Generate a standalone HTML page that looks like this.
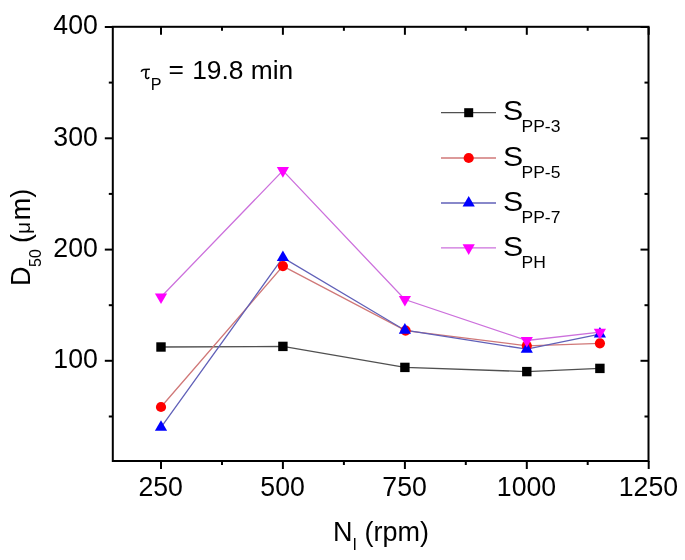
<!DOCTYPE html>
<html><head><meta charset="utf-8"><style>
html,body{margin:0;padding:0;background:#fff;}
svg{display:block;will-change:transform;}
text{font-family:"Liberation Sans",sans-serif;fill:#000;}
.t{font-size:27.5px;}
</style></head><body>
<svg width="685" height="560" viewBox="0 0 685 560">
<rect width="685" height="560" fill="#fff"/>
<g>
<rect x="112.8" y="26.8" width="535.7" height="434.2" fill="none" stroke="#000" stroke-width="2"/>
<line x1="161.0" y1="461.0" x2="161.0" y2="469.0" stroke="#000" stroke-width="2"/>
<line x1="161.0" y1="26.8" x2="161.0" y2="34.8" stroke="#000" stroke-width="2"/>
<line x1="222.0" y1="461.0" x2="222.0" y2="465.0" stroke="#000" stroke-width="2"/>
<line x1="222.0" y1="26.8" x2="222.0" y2="30.8" stroke="#000" stroke-width="2"/>
<line x1="282.9" y1="461.0" x2="282.9" y2="469.0" stroke="#000" stroke-width="2"/>
<line x1="282.9" y1="26.8" x2="282.9" y2="34.8" stroke="#000" stroke-width="2"/>
<line x1="343.9" y1="461.0" x2="343.9" y2="465.0" stroke="#000" stroke-width="2"/>
<line x1="343.9" y1="26.8" x2="343.9" y2="30.8" stroke="#000" stroke-width="2"/>
<line x1="404.9" y1="461.0" x2="404.9" y2="469.0" stroke="#000" stroke-width="2"/>
<line x1="404.9" y1="26.8" x2="404.9" y2="34.8" stroke="#000" stroke-width="2"/>
<line x1="465.8" y1="461.0" x2="465.8" y2="465.0" stroke="#000" stroke-width="2"/>
<line x1="465.8" y1="26.8" x2="465.8" y2="30.8" stroke="#000" stroke-width="2"/>
<line x1="526.8" y1="461.0" x2="526.8" y2="469.0" stroke="#000" stroke-width="2"/>
<line x1="526.8" y1="26.8" x2="526.8" y2="34.8" stroke="#000" stroke-width="2"/>
<line x1="587.7" y1="461.0" x2="587.7" y2="465.0" stroke="#000" stroke-width="2"/>
<line x1="587.7" y1="26.8" x2="587.7" y2="30.8" stroke="#000" stroke-width="2"/>
<line x1="648.7" y1="461.0" x2="648.7" y2="469.0" stroke="#000" stroke-width="2"/>
<line x1="648.7" y1="26.8" x2="648.7" y2="34.8" stroke="#000" stroke-width="2"/>
<line x1="112.8" y1="416.5" x2="108.8" y2="416.5" stroke="#000" stroke-width="2"/>
<line x1="648.5" y1="416.5" x2="644.5" y2="416.5" stroke="#000" stroke-width="2"/>
<line x1="112.8" y1="360.8" x2="104.8" y2="360.8" stroke="#000" stroke-width="2"/>
<line x1="648.5" y1="360.8" x2="640.5" y2="360.8" stroke="#000" stroke-width="2"/>
<line x1="112.8" y1="305.2" x2="108.8" y2="305.2" stroke="#000" stroke-width="2"/>
<line x1="648.5" y1="305.2" x2="644.5" y2="305.2" stroke="#000" stroke-width="2"/>
<line x1="112.8" y1="249.6" x2="104.8" y2="249.6" stroke="#000" stroke-width="2"/>
<line x1="648.5" y1="249.6" x2="640.5" y2="249.6" stroke="#000" stroke-width="2"/>
<line x1="112.8" y1="193.9" x2="108.8" y2="193.9" stroke="#000" stroke-width="2"/>
<line x1="648.5" y1="193.9" x2="644.5" y2="193.9" stroke="#000" stroke-width="2"/>
<line x1="112.8" y1="138.3" x2="104.8" y2="138.3" stroke="#000" stroke-width="2"/>
<line x1="648.5" y1="138.3" x2="640.5" y2="138.3" stroke="#000" stroke-width="2"/>
<line x1="112.8" y1="82.6" x2="108.8" y2="82.6" stroke="#000" stroke-width="2"/>
<line x1="648.5" y1="82.6" x2="644.5" y2="82.6" stroke="#000" stroke-width="2"/>
<line x1="112.8" y1="27.0" x2="104.8" y2="27.0" stroke="#000" stroke-width="2"/>
<line x1="648.5" y1="27.0" x2="640.5" y2="27.0" stroke="#000" stroke-width="2"/>
<text transform="translate(160.7,496.3) scale(0.97,1)" text-anchor="middle" class="t">250</text>
<text transform="translate(282.6,496.3) scale(0.97,1)" text-anchor="middle" class="t">500</text>
<text transform="translate(404.6,496.3) scale(0.97,1)" text-anchor="middle" class="t">750</text>
<text transform="translate(526.5,496.3) scale(0.97,1)" text-anchor="middle" class="t">1000</text>
<text transform="translate(648.4,496.3) scale(0.97,1)" text-anchor="middle" class="t">1250</text>
<text transform="translate(97.8,368.1) scale(0.97,1)" text-anchor="end" class="t">100</text>
<text transform="translate(97.8,256.9) scale(0.97,1)" text-anchor="end" class="t">200</text>
<text transform="translate(97.8,145.6) scale(0.97,1)" text-anchor="end" class="t">300</text>
<text transform="translate(97.8,34.3) scale(0.97,1)" text-anchor="end" class="t">400</text>
<polyline points="161.0,347.0 282.9,346.4 404.9,367.4 526.8,371.6 599.9,368.4" fill="none" stroke="#505050" stroke-width="1.3"/>
<polyline points="161.0,407.0 282.9,266.1 405.6,330.6 526.8,345.8 599.9,343.3" fill="none" stroke="#d07878" stroke-width="1.3"/>
<polyline points="161.0,427.3 282.9,257.6 404.9,330.2 526.8,349.2 599.9,334.1" fill="none" stroke="#6060b8" stroke-width="1.3"/>
<polyline points="161.0,297.0 282.9,170.6 404.9,299.5 526.8,340.5 599.9,332.2" fill="none" stroke="#cc70dc" stroke-width="1.3"/>
<rect x="156.3" y="342.3" width="9.4" height="9.4" fill="#000"/>
<rect x="278.2" y="341.7" width="9.4" height="9.4" fill="#000"/>
<rect x="400.2" y="362.7" width="9.4" height="9.4" fill="#000"/>
<rect x="522.1" y="366.9" width="9.4" height="9.4" fill="#000"/>
<rect x="595.2" y="363.7" width="9.4" height="9.4" fill="#000"/>
<circle cx="161.0" cy="407.0" r="5.1" fill="#f00"/>
<circle cx="282.9" cy="266.1" r="5.1" fill="#f00"/>
<circle cx="405.6" cy="330.6" r="5.1" fill="#f00"/>
<circle cx="526.8" cy="345.8" r="5.1" fill="#f00"/>
<circle cx="599.9" cy="343.3" r="5.1" fill="#f00"/>
<polygon points="154.90,430.80 167.10,430.80 161.00,420.20" fill="#00f"/>
<polygon points="276.80,261.10 289.00,261.10 282.90,250.50" fill="#00f"/>
<polygon points="398.80,333.70 411.00,333.70 404.90,323.10" fill="#00f"/>
<polygon points="520.70,352.70 532.90,352.70 526.80,342.10" fill="#00f"/>
<polygon points="593.80,337.60 606.00,337.60 599.90,327.00" fill="#00f"/>
<polygon points="154.90,293.45 167.10,293.45 161.00,304.05" fill="#f0f"/>
<polygon points="276.80,167.10 289.00,167.10 282.90,177.70" fill="#f0f"/>
<polygon points="398.80,296.00 411.00,296.00 404.90,306.60" fill="#f0f"/>
<polygon points="520.70,337.00 532.90,337.00 526.80,347.60" fill="#f0f"/>
<polygon points="593.80,328.70 606.00,328.70 599.90,339.30" fill="#f0f"/>
<line x1="441" y1="112.7" x2="496" y2="112.7" stroke="#505050" stroke-width="1.3"/>
<rect x="464.2" y="108.2" width="9" height="9" fill="#000"/>
<text transform="translate(503,120.3) scale(1.1,1)" style="font-size:27.5px">S</text>
<text transform="translate(521.5,132.3) scale(1.08,1)" style="font-size:16.2px">PP-3</text>
<line x1="441" y1="158.0" x2="496" y2="158.0" stroke="#d07878" stroke-width="1.3"/>
<circle cx="468.7" cy="158.0" r="5.1" fill="#f00"/>
<text transform="translate(503,165.6) scale(1.1,1)" style="font-size:27.5px">S</text>
<text transform="translate(521.5,177.6) scale(1.08,1)" style="font-size:16.2px">PP-5</text>
<line x1="441" y1="203.0" x2="496" y2="203.0" stroke="#6060b8" stroke-width="1.3"/>
<polygon points="462.60,206.53 474.80,206.53 468.70,195.93" fill="#00f"/>
<text transform="translate(503,210.6) scale(1.1,1)" style="font-size:27.5px">S</text>
<text transform="translate(521.5,222.6) scale(1.08,1)" style="font-size:16.2px">PP-7</text>
<line x1="441" y1="247.9" x2="496" y2="247.9" stroke="#cc70dc" stroke-width="1.3"/>
<polygon points="462.60,244.37 474.80,244.37 468.70,254.97" fill="#f0f"/>
<text transform="translate(503,255.5) scale(1.1,1)" style="font-size:27.5px">S</text>
<text transform="translate(521.5,267.5) scale(1.08,1)" style="font-size:16.2px">PH</text>
<path d="M141.2,71.8 Q141.9,69.6 143.8,69.5 L149.9,69.3 M146.3,69.5 L145.7,75.6 Q145.5,78.7 147.5,78.5 Q148.5,78.3 149.1,77.1" fill="none" stroke="#000" stroke-width="1.65" stroke-linecap="butt"/>
<text transform="translate(150.8,90.2) scale(0.95,1)" style="font-size:17px">P</text>
<text transform="translate(168.6,77.8) scale(1.03,1)" style="font-size:25.6px">=</text>
<text transform="translate(192.2,79.2) scale(1.03,1)" style="font-size:25.6px">19.8 min</text>
<text transform="translate(333,541)" style="font-size:27px">N</text>
<text transform="translate(352.6,549.6)" style="font-size:16px">I</text>
<text transform="translate(364.5,541)" style="font-size:27px">(rpm)</text>
<text transform="translate(30,286) rotate(-90)" style="font-size:27px">D</text>
<text transform="translate(41,267) rotate(-90)" style="font-size:16px">50</text>
<text transform="translate(30,243) rotate(-90)" style="font-size:27px">(<tspan style="font-size:21px">μ</tspan><tspan dx="1.6">m)</tspan></text>
</g>
</svg>
</body></html>
